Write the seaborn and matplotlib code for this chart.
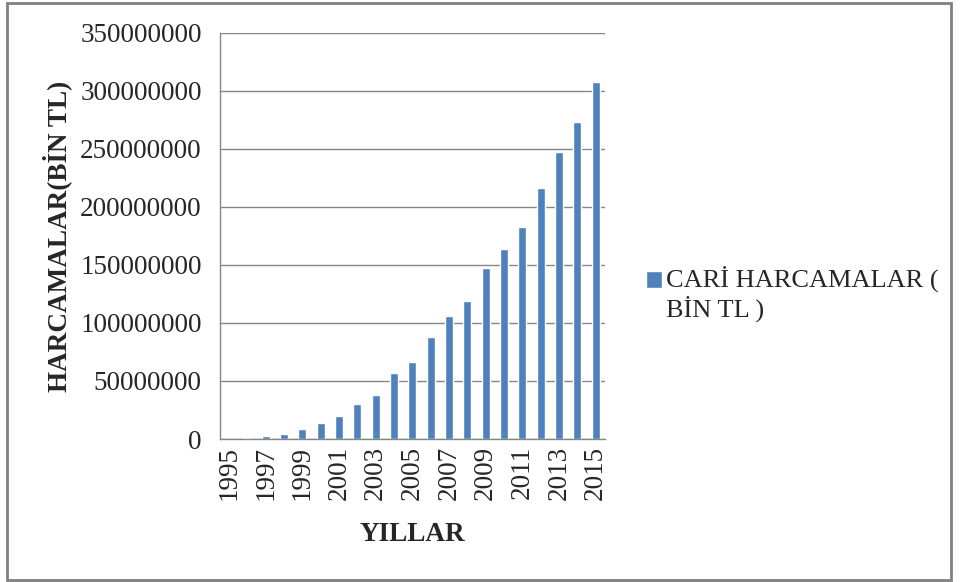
import matplotlib
matplotlib.use("Agg")
import matplotlib.pyplot as plt
import seaborn as sns
from matplotlib.patches import Rectangle
from matplotlib.container import BarContainer
from matplotlib.legend_handler import HandlerPatch, update_from_first_child


years = [str(y) for y in range(1995, 2016)]
values = [
    300000, 800000, 2600000, 4500000, 8900000, 13500000, 19800000,
    30200000, 38000000, 56800000, 66600000, 87700000, 106300000,
    118700000, 147400000, 164100000, 183000000, 216100000, 247200000,
    273000000, 308000000,
]
series_name = "CARİ HARCAMALAR (\nBİN TL )"
BAR_COLOR = "#4F81BD"
GRID_COLOR = "#868686"
FS = 19.5


sns.set_style("white")
plt.rcParams["font.family"] = ["Liberation Serif", "DejaVu Serif"]

fig = plt.figure(figsize=(9.6, 5.82), dpi=100)
ax = fig.add_axes([0.229, 0.2457, 0.401, 0.698])

sns.barplot(x=years, y=values, color=BAR_COLOR, width=0.45,
            saturation=1, label=series_name, ax=ax)

ax.set_ylim(0, 350000000)
ax.set_yticks(range(0, 350000001, 50000000))
ax.set_yticklabels([str(v) for v in range(0, 350000001, 50000000)])
ax.yaxis.grid(True, color=GRID_COLOR, linewidth=1)
ax.set_axisbelow(True)

# labels on every other year, tick marks at category borders
ax.set_xlim(-0.5, len(years) - 0.5)
ax.set_xticks(range(0, len(years), 2))
ax.set_xticklabels(years[::2], rotation=90)
ax.set_xticks([i - 0.5 for i in range(len(years) + 1)], minor=True)
ax.tick_params(axis="x", which="major", length=0, pad=5, labelsize=FS)
ax.tick_params(axis="x", which="minor", length=7, color=GRID_COLOR,
               direction="out", width=1)
ax.tick_params(axis="y", length=7, color=GRID_COLOR, direction="out",
               width=1, pad=6, labelsize=FS)

for side in ["top", "right"]:
    ax.spines[side].set_visible(False)
for side in ["left", "bottom"]:
    ax.spines[side].set_color(GRID_COLOR)
    ax.spines[side].set_linewidth(1)

ax.set_xlabel("YILLAR", fontsize=FS, fontweight="bold", labelpad=16)
ax.set_ylabel("HARCAMALAR(BİN TL)", fontsize=FS, fontweight="bold", labelpad=6)


# square marker next to the first line of the label
def first_line_square(legend, orig_handle, xdescent, ydescent,
                      width, height, fontsize):
    size = 0.62 * fontsize
    return Rectangle((-xdescent, -ydescent + 10), size, size)


ax.legend(loc="center left", bbox_to_anchor=(0.659, 0.495),
          bbox_transform=fig.transFigure, frameon=False, fontsize=19,
          handlelength=0.62, handleheight=0.62, handletextpad=0.15,
          borderpad=0, labelspacing=0,
          handler_map={BarContainer: HandlerPatch(
              patch_func=first_line_square,
              update_func=update_from_first_child)})

fig.patches.append(Rectangle((0.007, 0.004), 0.984, 0.99,
                             transform=fig.transFigure, fill=False,
                             edgecolor="#808080", linewidth=2))

fig.savefig("out.png", dpi=100)
